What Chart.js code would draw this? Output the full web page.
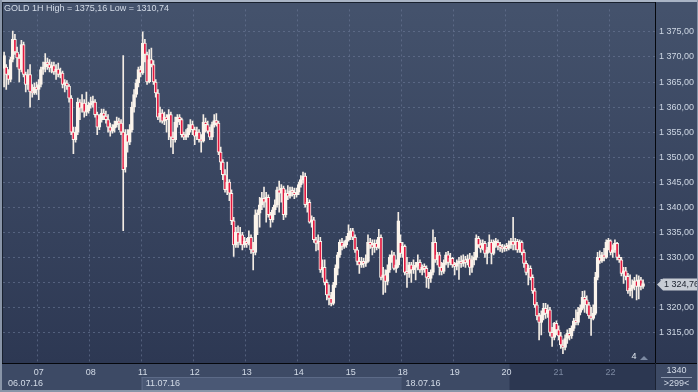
<!DOCTYPE html>
<html>
<head>
<meta charset="utf-8">
<script src="https://cdn.jsdelivr.net/npm/chart.js@4/dist/chart.umd.min.js"></script>
<style>
html, body { margin: 0; padding: 0; background: #2e3a55; overflow: hidden; }
canvas { display: block; }
</style>
</head>
<body>
<canvas id="goldChart" width="698" height="392"></canvas>
<script>
// GOLD 1H candles, 06.07.16 (partial) .. 22.07.16 (partial)
const days = ['06', '07', '08', '11', '12', '13', '14', '15', '18', '19', '20', '21', '22'];
const candlesPerDay = [16, 24, 24, 24, 24, 24, 24, 24, 24, 24, 24, 24, 16];
const emptySlots = 5;
const weekLabels = ['06.07.16', '11.07.16', '18.07.16'];
const weekStartDays = ['06', '11', '18'];
const dimDays = ['21', '22'];

const opens = [
    1367.7, 1368, 1366.5, 1365.5, 1369.5, 1373.5, 1371, 1369.8, 1367.5, 1372.5,
    1366.5, 1364.5, 1366.5, 1363, 1362.8, 1364, 1363.5, 1364.5, 1367.5, 1368,
    1369, 1368.5, 1367.8, 1368.3, 1367, 1367.6, 1366.5, 1366.8, 1364.5, 1364.8,
    1364.2, 1361.8, 1355, 1353.5, 1355, 1361, 1359.8, 1360.8, 1359, 1359.3,
    1360.4, 1360.8, 1361, 1358.5, 1356, 1357.5, 1358.8, 1358.2, 1357.5, 1356,
    1355.2, 1355.8, 1356.5, 1357.2, 1356.8, 1355, 1348, 1354.5, 1353, 1355.5,
    1360, 1362.5, 1364.8, 1367.5, 1366.8, 1372.8, 1370.5, 1365, 1369.5, 1368.5,
    1365, 1362.8, 1358, 1358.8, 1357.2, 1358, 1357.5, 1358.5, 1354, 1353.5,
    1357, 1358, 1357.5, 1354.5, 1354, 1354.5, 1355.8, 1356.5, 1355.5, 1354.2,
    1355, 1353.5, 1353.2, 1357, 1356.5, 1355.2, 1354, 1356.5, 1357.3, 1356.8,
    1351, 1349, 1346.5, 1343.5, 1345, 1342.8, 1337.3, 1332.5, 1335, 1333,
    1334.5, 1332.5, 1333.2, 1332.8, 1334, 1331.5, 1331, 1338.5, 1338.8, 1340.5,
    1341.8, 1341, 1342, 1338.5, 1337.5, 1339.5, 1340.5, 1343.5, 1342.8, 1343.8,
    1338.5, 1342.8, 1342.2, 1343.3, 1343, 1342.5, 1343, 1344.5, 1345.5, 1346.2,
    1340.5, 1341, 1337, 1337.5, 1333.5, 1332.8, 1333.2, 1327.5, 1328, 1325,
    1322.5, 1321.8, 1320.8, 1324.5, 1327.8, 1330.5, 1333, 1332.2, 1332.5, 1333.5,
    1334.8, 1335.3, 1334, 1331.5, 1329.2, 1328.5, 1329, 1328.8, 1329.2, 1333,
    1332.5, 1332, 1332.8, 1332, 1334, 1326, 1326.5, 1325.2, 1327.5, 1330,
    1330.5, 1327.8, 1328.5, 1333, 1330.8, 1332.2, 1327, 1326.8, 1328.5, 1327.5,
    1328, 1328.3, 1329, 1327.5, 1328, 1327.8, 1326, 1325.8, 1327, 1333,
    1329.5, 1330.5, 1328, 1327.2, 1328.8, 1330.5, 1329, 1329.8, 1328.5, 1328.2,
    1328.8, 1329.2, 1328.8, 1329.5, 1329, 1329.7, 1328, 1329.5, 1330, 1333.8,
    1332.5, 1331.8, 1332.8, 1330.8, 1331.5, 1333, 1330.8, 1332.8, 1333, 1332.2,
    1332, 1331.7, 1332, 1331.8, 1332.5, 1333.2, 1332.5, 1333.2, 1331.5, 1333,
    1331, 1328.8, 1327, 1327.8, 1326, 1323.3, 1320.5, 1318.3, 1317, 1318.5,
    1319.8, 1318.8, 1319.5, 1315, 1314, 1316.8, 1315.5, 1314.3, 1312.5, 1312,
    1313.8, 1314.8, 1314.3, 1315.8, 1317.3, 1317, 1319, 1319.8, 1322, 1321.5,
    1320.5, 1318.3, 1317.8, 1318.8, 1326, 1330, 1329.3, 1330.5, 1330, 1333,
    1333.3, 1331, 1331.5, 1332.8, 1330, 1329.5, 1326.8, 1327.3, 1326.2, 1323.3,
    1323.8, 1324.5, 1325.3, 1324.2, 1325.5, 1324.2
];
const highs = [
    1371, 1368.5, 1367.5, 1370, 1375.16, 1374.5, 1372, 1370.5, 1373.3, 1373,
    1367, 1367.5, 1368.5, 1364.5, 1364.8, 1365, 1365.5, 1368, 1369, 1370.7,
    1369.8, 1369.5, 1369, 1369, 1368.5, 1368.8, 1367.8, 1367.2, 1365.5, 1365.3,
    1364.5, 1362.3, 1356, 1356, 1361.8, 1361.5, 1362.5, 1361.5, 1363, 1361,
    1362, 1362.2, 1361.5, 1359, 1358.5, 1359.6, 1359.6, 1359.2, 1358.5, 1356.8,
    1356.5, 1357.2, 1358, 1357.8, 1357.5, 1370.3, 1355.5, 1355.5, 1356.5, 1361,
    1363.5, 1365.5, 1368, 1368.2, 1375, 1373.5, 1371, 1371.5, 1371.8, 1369.3,
    1365.5, 1363.5, 1360, 1359.5, 1359, 1358.5, 1359.5, 1359, 1355, 1358,
    1358.5, 1358.5, 1357.8, 1355, 1355.5, 1356.5, 1357.5, 1357.2, 1356, 1356,
    1355.5, 1354.5, 1358.5, 1357.8, 1357.2, 1356, 1357, 1358.5, 1358.7, 1357.2,
    1352, 1349.5, 1347.5, 1349, 1345.5, 1343.5, 1338, 1336, 1336.3, 1336,
    1335, 1334, 1333.8, 1335.3, 1334.5, 1333, 1339.5, 1339.5, 1342, 1343,
    1344, 1343, 1342.5, 1339, 1340, 1341.5, 1344, 1345.2, 1344.5, 1344.2,
    1343.5, 1344.3, 1344, 1344, 1343.8, 1343.8, 1345, 1346.3, 1347, 1346.8,
    1341.8, 1341.5, 1338.3, 1338, 1334, 1334.5, 1334, 1329.5, 1329.5, 1325.5,
    1324.5, 1323, 1325, 1328.5, 1331, 1333.5, 1333.8, 1333.3, 1334.2, 1336.5,
    1335.8, 1335.8, 1334.5, 1332, 1330, 1330, 1329.8, 1330.5, 1334.5, 1333.8,
    1333.5, 1333.5, 1333.5, 1335.6, 1334.5, 1328, 1327.5, 1328.5, 1330.5, 1331.3,
    1331, 1329.5, 1339, 1334.5, 1333, 1332.5, 1330, 1329, 1329, 1329.5,
    1329, 1330.5, 1329.5, 1328.5, 1328.7, 1328.3, 1327, 1327.5, 1335.5, 1334,
    1331, 1331, 1329, 1329.5, 1331, 1331.2, 1330.8, 1330, 1329, 1329.5,
    1330, 1330.3, 1330.5, 1330.2, 1330.5, 1330.8, 1330.3, 1331, 1334.5, 1334.2,
    1333.5, 1333.5, 1333.2, 1332, 1334.5, 1333.5, 1333.5, 1333.8, 1333.5, 1333,
    1332.6, 1332.5, 1332.8, 1333.3, 1333.8, 1338, 1333.8, 1333.6, 1333.5, 1333.3,
    1331.5, 1329.3, 1328.5, 1328.3, 1326.5, 1323.8, 1321, 1318.8, 1319.3, 1320.8,
    1320.8, 1320.5, 1320, 1316, 1317, 1317.3, 1316.3, 1315, 1313.5, 1314.5,
    1315.5, 1315.8, 1316.3, 1317.8, 1319.5, 1320, 1320.5, 1323.2, 1323.3, 1322.3,
    1321, 1320, 1320.5, 1327, 1331, 1331.3, 1331, 1331.8, 1333.5, 1333.8,
    1333.5, 1332.5, 1333.5, 1333, 1330.5, 1330, 1328, 1328, 1326.8, 1326.5,
    1325.5, 1326, 1326.5, 1326.3, 1326, 1325.5
];
const lows = [
    1364, 1363.5, 1364.5, 1365, 1369, 1370.5, 1368, 1365, 1367, 1366,
    1363, 1363.5, 1360, 1362, 1362.5, 1362.5, 1361.5, 1364, 1366.5, 1367,
    1367.5, 1367, 1366.8, 1366.5, 1365.5, 1366, 1365.8, 1363.8, 1363, 1363.5,
    1361, 1354.5, 1350.7, 1353, 1354.5, 1357.5, 1359, 1358, 1358.3, 1358.8,
    1359.8, 1360, 1358, 1354.5, 1355.5, 1357, 1357.5, 1356.8, 1355, 1354.2,
    1354.8, 1355, 1356, 1355.5, 1354.5, 1335.3, 1347, 1351, 1352.5, 1355,
    1359, 1362, 1364, 1366, 1366.5, 1369, 1364.5, 1364.8, 1368, 1364.5,
    1362, 1357.5, 1357, 1356.8, 1356.5, 1355, 1353.5, 1352, 1350.7, 1353,
    1356, 1356.5, 1354, 1353.5, 1353.5, 1354, 1355, 1354.5, 1352.5, 1353.5,
    1353, 1351, 1353, 1355, 1354.8, 1353.5, 1353.5, 1356, 1356.2, 1350.5,
    1347.5, 1345.5, 1343, 1342.5, 1341.3, 1336.5, 1330.2, 1332, 1332, 1332.5,
    1331.5, 1332, 1332, 1332.5, 1330.8, 1327.5, 1330.5, 1334.5, 1336, 1339.5,
    1340, 1337, 1338, 1336, 1337, 1338.5, 1340, 1339, 1341, 1337.5,
    1338, 1341.5, 1341.8, 1342.2, 1341.7, 1342, 1342.5, 1344, 1344.8, 1340,
    1339, 1336.8, 1336, 1333, 1331.3, 1331.5, 1327, 1326, 1324.5, 1321.5,
    1320.5, 1320.3, 1320.5, 1324, 1326.5, 1330, 1331.5, 1331.8, 1332, 1333.2,
    1333.5, 1333.5, 1331, 1328.5, 1326.8, 1328, 1328, 1328.2, 1329, 1331.8,
    1330.5, 1331, 1331.5, 1331.8, 1325.5, 1322.6, 1323, 1324.5, 1327, 1329,
    1327.5, 1327, 1328, 1330, 1330, 1326.5, 1324, 1326, 1325, 1326.8,
    1325.5, 1327.5, 1327, 1326.5, 1327, 1324, 1323.8, 1325, 1326.5, 1329,
    1328.5, 1326.5, 1326.5, 1326.8, 1328.5, 1328, 1328.5, 1328, 1326.5, 1327.5,
    1325.6, 1328, 1328.2, 1328, 1328.5, 1326.5, 1327, 1328.5, 1329.5, 1332,
    1331, 1331.5, 1330, 1328.7, 1331, 1328.7, 1330.5, 1332, 1331.5, 1331.2,
    1331, 1331.2, 1331.3, 1331.5, 1331.8, 1331.5, 1331.5, 1331, 1331, 1330.5,
    1328, 1326.5, 1324.5, 1325.5, 1322.8, 1320, 1317.5, 1313.5, 1314.5, 1317.5,
    1317.8, 1318, 1314.3, 1312.2, 1313.5, 1314.5, 1313.5, 1311.8, 1310.74, 1311.5,
    1312.8, 1313.5, 1313.8, 1315.3, 1316.5, 1316.5, 1318.5, 1319.5, 1319, 1318.8,
    1317.8, 1314.4, 1317.5, 1318.5, 1325.5, 1328.8, 1329, 1329.3, 1329.8, 1331.5,
    1330.5, 1330, 1331, 1329.5, 1329, 1326.3, 1324.8, 1325.5, 1322.8, 1322.3,
    1321.9, 1323.5, 1321.5, 1321.7, 1323.5, 1323.8
];
const closes = [
    1370.3, 1366.5, 1365.5, 1369.5, 1373.5, 1371, 1369.8, 1367.5, 1372.5, 1366.5,
    1364.5, 1366.5, 1363, 1362.8, 1364, 1363.5, 1364.5, 1367.5, 1368, 1369,
    1368.5, 1367.8, 1368.3, 1367, 1367.6, 1366.5, 1366.8, 1364.5, 1364.8, 1364.2,
    1361.8, 1355, 1353.5, 1355, 1361, 1359.8, 1360.8, 1359, 1359.3, 1360.4,
    1360.8, 1361, 1358.5, 1356, 1357.5, 1358.8, 1358.2, 1357.5, 1356, 1355.2,
    1355.8, 1356.5, 1357.2, 1356.8, 1355, 1347.5, 1354.5, 1353, 1355.5, 1360,
    1362.5, 1364.8, 1367.5, 1366.8, 1372.8, 1370.5, 1365, 1369.5, 1368.5, 1365,
    1362.8, 1358, 1358.8, 1357.2, 1358, 1357.5, 1358.5, 1354, 1353.5, 1357,
    1358, 1357.5, 1354.5, 1354, 1354.5, 1355.8, 1356.5, 1355.5, 1354.2, 1355,
    1353.5, 1353.2, 1357, 1356.5, 1355.2, 1354, 1356.5, 1357.3, 1356.8, 1351,
    1349, 1346.5, 1343.5, 1345, 1342.8, 1337.3, 1332.5, 1335, 1333, 1334.5,
    1332.5, 1333.2, 1332.8, 1334, 1331.5, 1331, 1338.5, 1338.8, 1340.5, 1341.8,
    1341, 1342, 1338.5, 1337.5, 1339.5, 1340.5, 1343.5, 1342.8, 1343.8, 1338.5,
    1342.8, 1342.2, 1343.3, 1343, 1342.5, 1343, 1344.5, 1345.5, 1346.2, 1340.5,
    1341, 1337, 1337.5, 1333.5, 1332.8, 1333.2, 1327.5, 1328, 1325, 1322.5,
    1321.8, 1320.8, 1324.5, 1327.8, 1330.5, 1333, 1332.2, 1332.5, 1333.5, 1334.8,
    1335.3, 1334, 1331.5, 1329.2, 1328.5, 1329, 1328.8, 1329.2, 1333, 1332.5,
    1332, 1332.8, 1332, 1334, 1326, 1326.5, 1325.2, 1327.5, 1330, 1330.5,
    1327.8, 1328.5, 1337.3, 1330.8, 1332.2, 1327, 1326.8, 1328.5, 1327.5, 1328,
    1328.3, 1329, 1327.5, 1328, 1327.8, 1326, 1325.8, 1327, 1333, 1329.5,
    1330.5, 1328, 1327.2, 1328.8, 1330.5, 1329, 1329.8, 1328.5, 1328.2, 1328.8,
    1329.2, 1328.8, 1329.5, 1329, 1329.7, 1328, 1329.5, 1330, 1333.8, 1332.5,
    1331.8, 1332.8, 1330.8, 1331.5, 1333, 1330.8, 1332.8, 1333, 1332.2, 1332,
    1331.7, 1332, 1331.8, 1332.5, 1333.2, 1332.5, 1333.2, 1331.5, 1333, 1331,
    1328.8, 1327, 1327.8, 1326, 1323.3, 1320.5, 1318.3, 1317, 1318.5, 1319.8,
    1318.8, 1319.5, 1315, 1314, 1316.8, 1315.5, 1314.3, 1312.5, 1312, 1313.8,
    1314.8, 1314.3, 1315.8, 1317.3, 1317, 1319, 1319.8, 1322, 1321.5, 1320.5,
    1318.3, 1317.8, 1318.8, 1326, 1330, 1329.3, 1330.5, 1330, 1333, 1333.3,
    1331, 1331.5, 1332.8, 1330, 1329.5, 1326.8, 1327.3, 1326.2, 1323.3, 1323.8,
    1324.5, 1325.3, 1324.2, 1325.5, 1324.2, 1324.76
];

const titleText = 'GOLD 1H High = 1375,16 Low = 1310,74';
const lastPrice = 1324.76;
const boxTop = '1340';
const boxBottom = '>299<';
const shiftMark = '4';

// x categories: day number on the first hour of each day, blank otherwise
const labels = [];
const dayStart = {};
days.forEach((d, k) => {
    dayStart[d] = labels.length;
    for (let h = 0; h < candlesPerDay[k]; h++) {
        labels.push(h === 0 && k > 0 ? d : '');
    }
});
for (let e = 0; e < emptySlots; e++) labels.push('');

const bodies = opens.map((o, i) => [o, closes[i]]);
const wicks = highs.map((h, i) => [Math.min(lows[i], opens[i], closes[i]), Math.max(h, opens[i], closes[i])]);

const fmtPrice = v => {
    const s = v.toFixed(2).replace('.', ',');
    return s[0] + ' ' + s.slice(1);
};

const FONT = "'Liberation Sans', Arial, sans-serif";
const GRID = 'rgba(108, 122, 152, 0.6)';

const backdrop = {
    id: 'backdrop',
    beforeDraw(chart) {
        const { ctx, chartArea: a, scales: { x } } = chart;
        const W = chart.width, H = chart.height;
        const slot = (a.right - a.left) / labels.length;
        const edge = d => x.getPixelForValue(dayStart[d]) - slot / 2;

        ctx.save();
        const g = ctx.createLinearGradient(0, a.top, 0, a.bottom);
        g.addColorStop(0, '#44526c');
        g.addColorStop(1, '#2d3853');
        ctx.fillStyle = g;
        ctx.fillRect(0, 0, W, a.bottom);

        ctx.fillStyle = '#3d4a65';
        ctx.fillRect(0, a.bottom, W, H - a.bottom);

        // highlighted week band
        ctx.fillStyle = '#4a5875';
        ctx.fillRect(edge('11'), a.bottom + 14, edge('18') - edge('11'), H - a.bottom - 14);
        ctx.fillStyle = '#5c6a87';
        ctx.fillRect(edge('11'), a.bottom + 14, edge('18') - edge('11'), 1);
        ctx.fillRect(edge('11'), a.bottom + 14, 1, H - a.bottom - 14);

        // darker tail of the time strip
        ctx.fillStyle = '#2c3751';
        ctx.fillRect(edge('20') + 4, a.bottom, a.right - edge('20') - 4, H - a.bottom);
        ctx.restore();
    },
    afterDraw(chart) {
        const { ctx, chartArea: a, scales: { x, y } } = chart;
        const W = chart.width, H = chart.height;
        const slot = (a.right - a.left) / labels.length;
        const edge = d => x.getPixelForValue(dayStart[d]) - slot / 2;

        ctx.save();
        ctx.textBaseline = 'middle';

        // title
        ctx.font = '9px ' + FONT;
        ctx.fillStyle = '#d3dbe7';
        ctx.textAlign = 'left';
        ctx.fillText(titleText, 4, 9);

        // week dates
        ctx.fillStyle = '#d3dbe7';
        weekLabels.forEach((t, k) => {
            const px = k === 0 ? a.left + 5 : edge(weekStartDays[k]) + 4;
            ctx.fillText(t, px, a.bottom + 20.5);
        });

        // frame lines
        ctx.fillStyle = '#05070c';
        ctx.fillRect(0, a.bottom, W, 1);
        ctx.fillRect(a.right, 2, 1, a.bottom - 2);
        ctx.fillStyle = '#1b2233';
        ctx.fillRect(a.right, a.bottom, 1, H - a.bottom);

        // right bottom box
        ctx.textAlign = 'center';
        ctx.fillStyle = '#d3dbe7';
        ctx.fillText(boxTop, (a.right + W) / 2, a.bottom + 8);
        ctx.fillText(boxBottom, (a.right + W) / 2, a.bottom + 21);
        ctx.fillStyle = '#8e9ab0';
        ctx.fillRect(a.right + 6, a.bottom + 14, W - a.right - 12, 1);

        // shift marker
        ctx.fillStyle = '#e2e8f0';
        ctx.fillText(shiftMark, a.right - 21, a.bottom - 6);
        ctx.fillStyle = '#7d8aa2';
        ctx.beginPath();
        ctx.moveTo(a.right - 15, a.bottom - 3);
        ctx.lineTo(a.right - 11, a.bottom - 7);
        ctx.lineTo(a.right - 7, a.bottom - 3);
        ctx.fill();

        // last price tag
        const py = Math.round(y.getPixelForValue(lastPrice)) + 0.5;
        ctx.fillStyle = '#c7ccd4';
        ctx.beginPath();
        ctx.moveTo(a.right + 2, py);
        ctx.lineTo(a.right + 8, py - 6);
        ctx.lineTo(W, py - 6);
        ctx.lineTo(W, py + 6);
        ctx.lineTo(a.right + 8, py + 6);
        ctx.closePath();
        ctx.fill();
        ctx.fillStyle = '#1a202c';
        ctx.textAlign = 'left';
        ctx.fillText(fmtPrice(lastPrice), a.right + 9, py);

        // outer frame
        ctx.fillStyle = '#a9b4c5';
        ctx.fillRect(0, 0, W, 2);
        ctx.fillStyle = '#8995a8';
        ctx.fillRect(0, 0, 2, H);
        ctx.fillRect(W - 1, 0, 1, H);
        ctx.fillRect(0, H - 2, W, 2);
        ctx.fillStyle = '#18202e';
        ctx.fillRect(2, 2, 1, a.bottom - 2);
        ctx.fillRect(2, 2, a.right - 2, 1);
        ctx.restore();
    }
};

new Chart(document.getElementById('goldChart'), {
    type: 'bar',
    data: {
        labels,
        datasets: [
            {
                label: 'Body',
                data: bodies,
                order: 0,
                grouped: false,
                barThickness: 3,
                minBarLength: 2,
                borderWidth: 1,
                borderSkipped: false,
                borderColor: '#fbf4ec',
                backgroundColor: ctx => closes[ctx.dataIndex] >= opens[ctx.dataIndex] ? '#fbf4ec' : '#e3173f'
            },
            {
                label: 'Wick',
                data: wicks,
                order: 1,
                grouped: false,
                barThickness: 1,
                borderWidth: 0,
                backgroundColor: '#f3ece4'
            }
        ]
    },
    options: {
        responsive: false,
        animation: false,
        devicePixelRatio: 1,
        layout: { padding: { left: 3, top: 3, right: 0, bottom: 0 } },
        plugins: {
            legend: { display: false },
            tooltip: { enabled: false },
            title: { display: false }
        },
        scales: {
            x: {
                type: 'category',
                offset: true,
                afterFit: scale => { scale.height = 29; },
                grid: {
                    offset: true,
                    drawTicks: false,
                    lineWidth: 1,
                    color: ctx => (ctx.tick && ctx.tick.label) ? GRID : 'rgba(0,0,0,0)'
                },
                border: { display: false, dash: [2, 3] },
                ticks: {
                    autoSkip: false,
                    maxRotation: 0,
                    minRotation: 0,
                    padding: 4,
                    font: { family: FONT, size: 9 },
                    color: ctx => dimDays.includes(labels[ctx.index]) ? '#7c89a1' : '#d3dbe7',
                    callback: (v, i) => labels[i]
                }
            },
            y: {
                type: 'linear',
                position: 'right',
                min: 1308.9,
                max: 1379.5,
                afterFit: scale => { scale.width = 43; },
                afterBuildTicks: scale => {
                    scale.ticks = scale.ticks.filter(t => t.value >= 1312 && t.value <= 1376);
                },
                grid: {
                    drawTicks: false,
                    lineWidth: 1,
                    color: GRID
                },
                border: { display: false, dash: [2, 3] },
                ticks: {
                    stepSize: 5,
                    includeBounds: false,
                    padding: 4,
                    font: { family: FONT, size: 9 },
                    color: '#cdd6e3',
                    callback: v => fmtPrice(v)
                }
            }
        }
    },
    plugins: [backdrop]
});
</script>
</body>
</html>
